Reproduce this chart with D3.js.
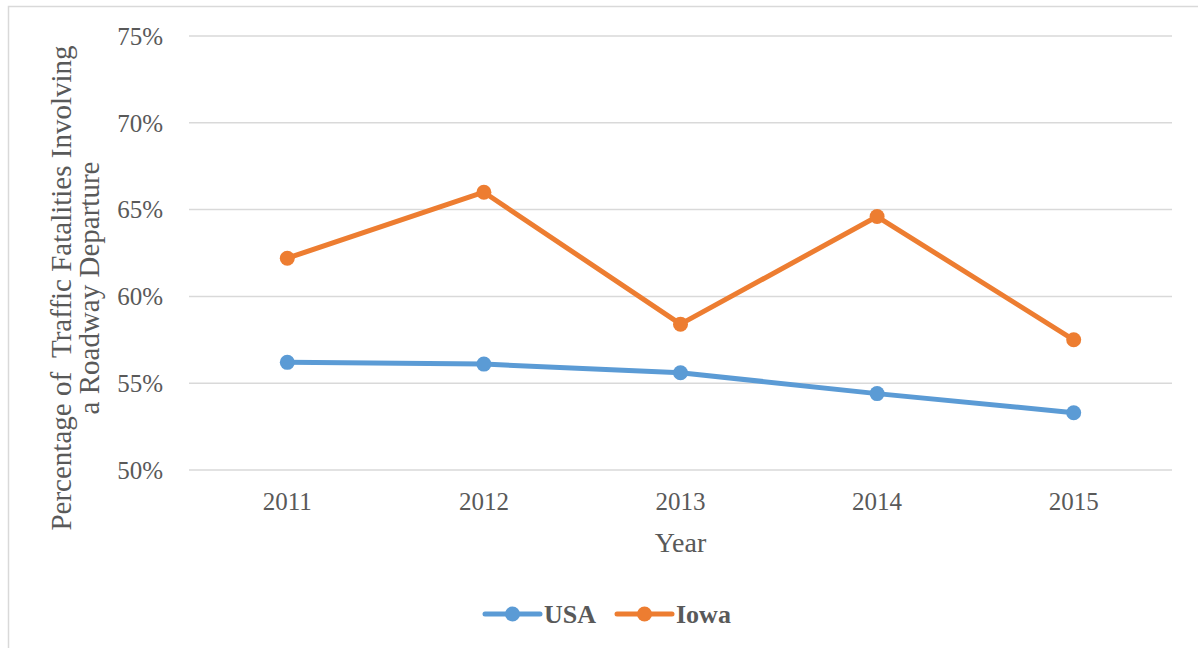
<!DOCTYPE html>
<html>
<head>
<meta charset="utf-8">
<script src="https://cdn.jsdelivr.net/npm/d3@7"></script>
<style>
  body { margin: 0; background: #fff; }
  svg text { font-family: "Liberation Serif", "DejaVu Serif", serif; fill: #595959; }
</style>
</head>
<body>
<svg class="chart"></svg>
<script>
var years = ["2011", "2012", "2013", "2014", "2015"];
var usa = [56.2, 56.1, 55.6, 54.4, 53.3];
var iowa = [62.2, 66.0, 58.4, 64.6, 57.5];
var yTicks = [50, 55, 60, 65, 70, 75];

var width = 1198, height = 648;
var margin = { top: 36, right: 26, bottom: 178, left: 189 };

var chart = d3.select(".chart")
    .attr("width", width)
    .attr("height", height);

// outer frame
chart.append("rect")
    .attr("x", 8.5).attr("y", 6.5)
    .attr("width", 1200).attr("height", 700)
    .attr("fill", "none")
    .attr("stroke", "#d9d9d9")
    .attr("stroke-width", 1.5);

var x = d3.scalePoint()
    .domain(years)
    .range([margin.left, width - margin.right])
    .padding(0.5);

var y = d3.scaleLinear()
    .domain([50, 75])
    .range([height - margin.bottom, margin.top]);

// gridlines
chart.append("g")
    .selectAll("line")
    .data(yTicks)
    .enter().append("line")
    .attr("x1", margin.left)
    .attr("x2", width - margin.right)
    .attr("y1", function(d) { return y(d); })
    .attr("y2", function(d) { return y(d); })
    .attr("stroke", "#d9d9d9")
    .attr("stroke-width", 1.5);

// y tick labels
chart.append("g")
    .selectAll("text")
    .data(yTicks)
    .enter().append("text")
    .attr("x", 163)
    .attr("y", function(d) { return y(d); })
    .attr("dy", "0.35em")
    .attr("text-anchor", "end")
    .style("font-size", "25px")
    .text(function(d) { return d + "%"; });

// x tick labels
chart.append("g")
    .selectAll("text")
    .data(years)
    .enter().append("text")
    .attr("x", function(d) { return x(d); })
    .attr("y", 510)
    .attr("text-anchor", "middle")
    .style("font-size", "25px")
    .text(function(d) { return d; });

// axis titles
chart.append("text")
    .attr("x", x("2013"))
    .attr("y", 552)
    .attr("text-anchor", "middle")
    .style("font-size", "28px")
    .text("Year");

var yTitle = chart.append("text")
    .attr("transform", "translate(71,288) rotate(-90)")
    .attr("text-anchor", "middle")
    .style("font-size", "29px")
    .style("white-space", "pre");
yTitle.append("tspan").attr("x", 0).attr("y", 0).text("Percentage of  Traffic Fatalities Involving");
yTitle.append("tspan").attr("x", 0).attr("y", 28).text("a Roadway Departure");

var series = [
    { name: "USA", values: usa, color: "#5b9bd5" },
    { name: "Iowa", values: iowa, color: "#ed7d31" }
];

var line = d3.line()
    .x(function(d, i) { return x(years[i]); })
    .y(function(d) { return y(d); });

series.forEach(function(s) {
    chart.append("path")
        .datum(s.values)
        .attr("d", line)
        .attr("fill", "none")
        .attr("stroke", s.color)
        .attr("stroke-width", 5)
        .attr("stroke-linejoin", "round");

    chart.append("g")
        .selectAll("circle")
        .data(s.values)
        .enter().append("circle")
        .attr("cx", function(d, i) { return x(years[i]); })
        .attr("cy", function(d) { return y(d); })
        .attr("r", 7.5)
        .attr("fill", s.color);
});

// legend
var legendX = [485, 617];
series.forEach(function(s, i) {
    var g = chart.append("g").attr("transform", "translate(" + legendX[i] + ",614)");
    g.append("line")
        .attr("x1", 0).attr("x2", 55)
        .attr("stroke", s.color)
        .attr("stroke-width", 5)
        .attr("stroke-linecap", "round");
    g.append("circle")
        .attr("cx", 27.5).attr("r", 7.5)
        .attr("fill", s.color);
    g.append("text")
        .attr("x", 59)
        .attr("dy", "0.35em")
        .style("font-size", "26px")
        .style("font-weight", "bold")
        .text(s.name);
});
</script>
</body>
</html>
